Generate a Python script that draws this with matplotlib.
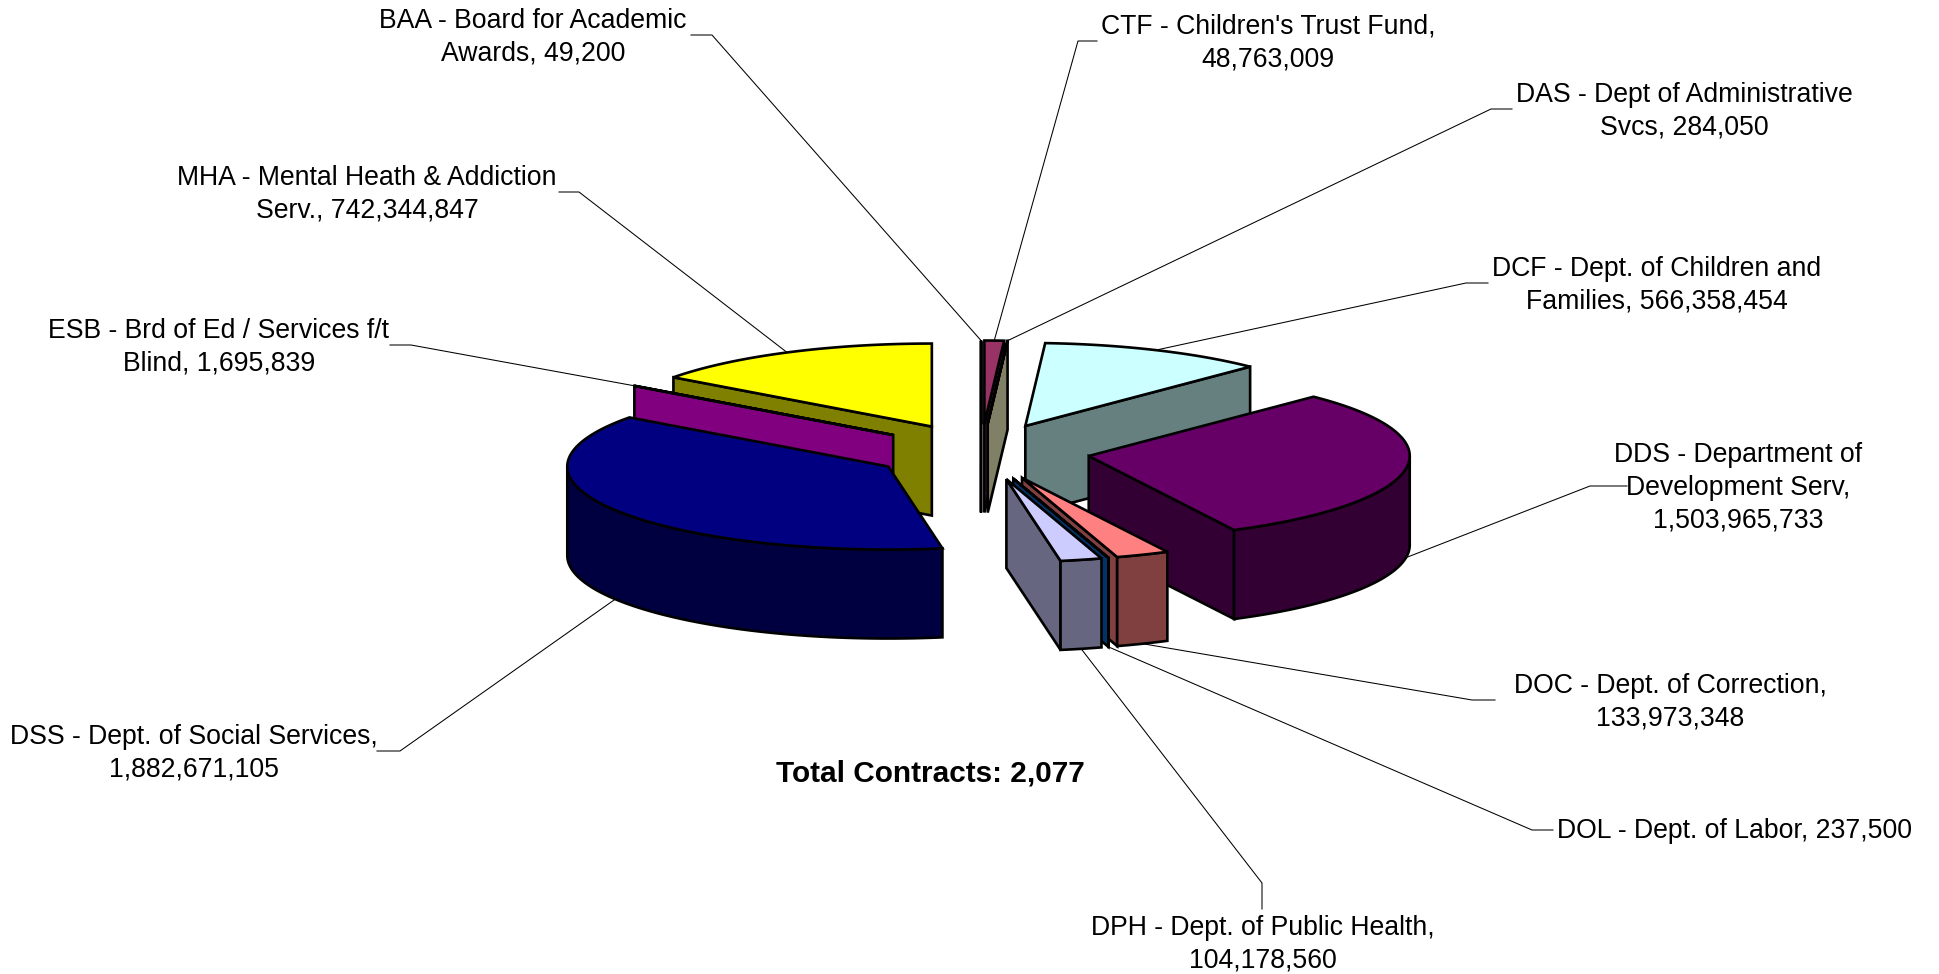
import numpy as np
import matplotlib
matplotlib.use('Agg')
import matplotlib.pyplot as plt
from matplotlib.patches import Polygon

plt.rcParams['font.family'] = ['Liberation Sans', 'DejaVu Sans']

# Data
names = ["BAA - Board for Academic\nAwards", "CTF - Children's Trust Fund", "DAS - Dept of Administrative\nSvcs",
         "DCF - Dept. of Children and\nFamilies", "DDS - Department of\nDevelopment Serv", "DOC - Dept. of Correction",
         "DOL - Dept. of Labor", "DPH - Dept. of Public Health", "DSS - Dept. of Social Services",
         "ESB - Brd of Ed / Services f/t\nBlind", "MHA - Mental Heath & Addiction\nServ."]
values = [49200, 48763009, 284050, 566358454, 1503965733, 133973348, 237500, 104178560, 1882671105, 1695839, 742344847]
separators = [", ", ",\n", ", ", ", ", ",\n", ",\n", ", ", ",\n", ",\n", ", ", ", "]
total_contracts = 2077

top_colors = ['#9999FF', '#993366', '#FFFFCC', '#CCFFFF', '#660066', '#FF8080', '#0066CC', '#CCCCFF', '#000080', '#FF00FF', '#FFFF00']
side_colors = ['#4D4D80', '#4D1A33', '#808066', '#668080', '#330033', '#804040', '#003366', '#666680', '#000040', '#800080', '#808000']

# Layout, in pixels of the picture
cx, cy = 981, 451.7
rx, ry = 321, 83
depth = 89
explode = 109
line_w = 1.9

label_pos = [(533, 37), (1268, 43), (1684, 111), (1657, 285), (1738, 488), (1670, 702),
             (1735, 831), (1263, 944), (194, 753), (219, 347), (367, 194)]
# leader line: label side end, then elbow
leader_ends = [(691, 35), (1097, 41), (1512, 109), (1488, 283), (1627, 486), (1495, 700),
               (1553, 830), (1262, 909), (377, 751), (390, 345), (559, 192)]
leader_elbows = [(712, 35), (1078, 41), (1491, 109), (1466, 283), (1590, 486), (1472, 700),
                 (1532, 830), (1262, 883), (400, 751), (411, 345), (579, 192)]
draw_order = [0, 1, 2, 10, 9, 8, 3, 4, 5, 6, 7]

fig = plt.figure(figsize=(19.4, 9.74), dpi=100)
ax = fig.add_axes([0, 0, 1, 1])
ax.set_xlim(0, 1940)
ax.set_ylim(974, 0)
ax.axis('off')

# Angles go clockwise from 12 o'clock
edges = np.concatenate([[0], np.cumsum(values)]) / np.sum(values) * 2 * np.pi
mids = (edges[:-1] + edges[1:]) / 2
apex_x = cx + explode * np.sin(mids)
apex_y = cy - explode * ry / rx * np.cos(mids)


def rim(i, a1, a2):
    t = np.linspace(a1, a2, max(int(np.degrees(a2 - a1)), 1) + 1)
    return np.column_stack([apex_x[i] + rx * np.sin(t), apex_y[i] - ry * np.cos(t)])


def face(pts, color, z):
    ax.add_patch(Polygon(pts, closed=True, facecolor=color, edgecolor='black', linewidth=line_w,
                         joinstyle='miter', zorder=z))


# Leader lines
for i in range(len(values)):
    p = rim(i, mids[i], mids[i])[0]
    if np.cos(mids[i]) < 0:
        p = p + [0, depth]
    ax.plot([leader_ends[i][0], leader_elbows[i][0], p[0]], [leader_ends[i][1], leader_elbows[i][1], p[1]],
            color='black', linewidth=0.75, zorder=1)

# Slices, back to front
z = 2
for i in draw_order:
    a1, a2 = edges[i], edges[i + 1]
    apex = np.array([apex_x[i], apex_y[i]])
    down = np.array([0, depth])
    # cut faces
    if np.sin(a1) < 0:
        e = rim(i, a1, a1)[0]
        face([apex, e, e + down, apex + down], side_colors[i], z)
        z += 1
    if np.sin(a2) > 0:
        e = rim(i, a2, a2)[0]
        face([apex, e, e + down, apex + down], side_colors[i], z)
        z += 1
    # outer wall, front part of the ellipse only
    w1, w2 = max(a1, np.pi / 2), min(a2, 3 * np.pi / 2)
    if w2 > w1:
        arc = rim(i, w1, w2)
        face(np.vstack([arc, arc[::-1] + down]), side_colors[i], z)
        z += 1
    # top
    face(np.vstack([apex, rim(i, a1, a2)]), top_colors[i], z)
    z += 1

# Labels
for i in range(len(values)):
    ax.text(label_pos[i][0], label_pos[i][1], f"{names[i]}{separators[i]}{values[i]:,}", ha='center', va='center',
            fontsize=19.2, linespacing=1.33, color='black', zorder=50)
ax.text(930, 773, f"Total Contracts: {total_contracts:,}", ha='center', va='center', fontsize=21.4,
        fontweight='bold', color='black', zorder=50)

fig.savefig('out.png', dpi=100)
